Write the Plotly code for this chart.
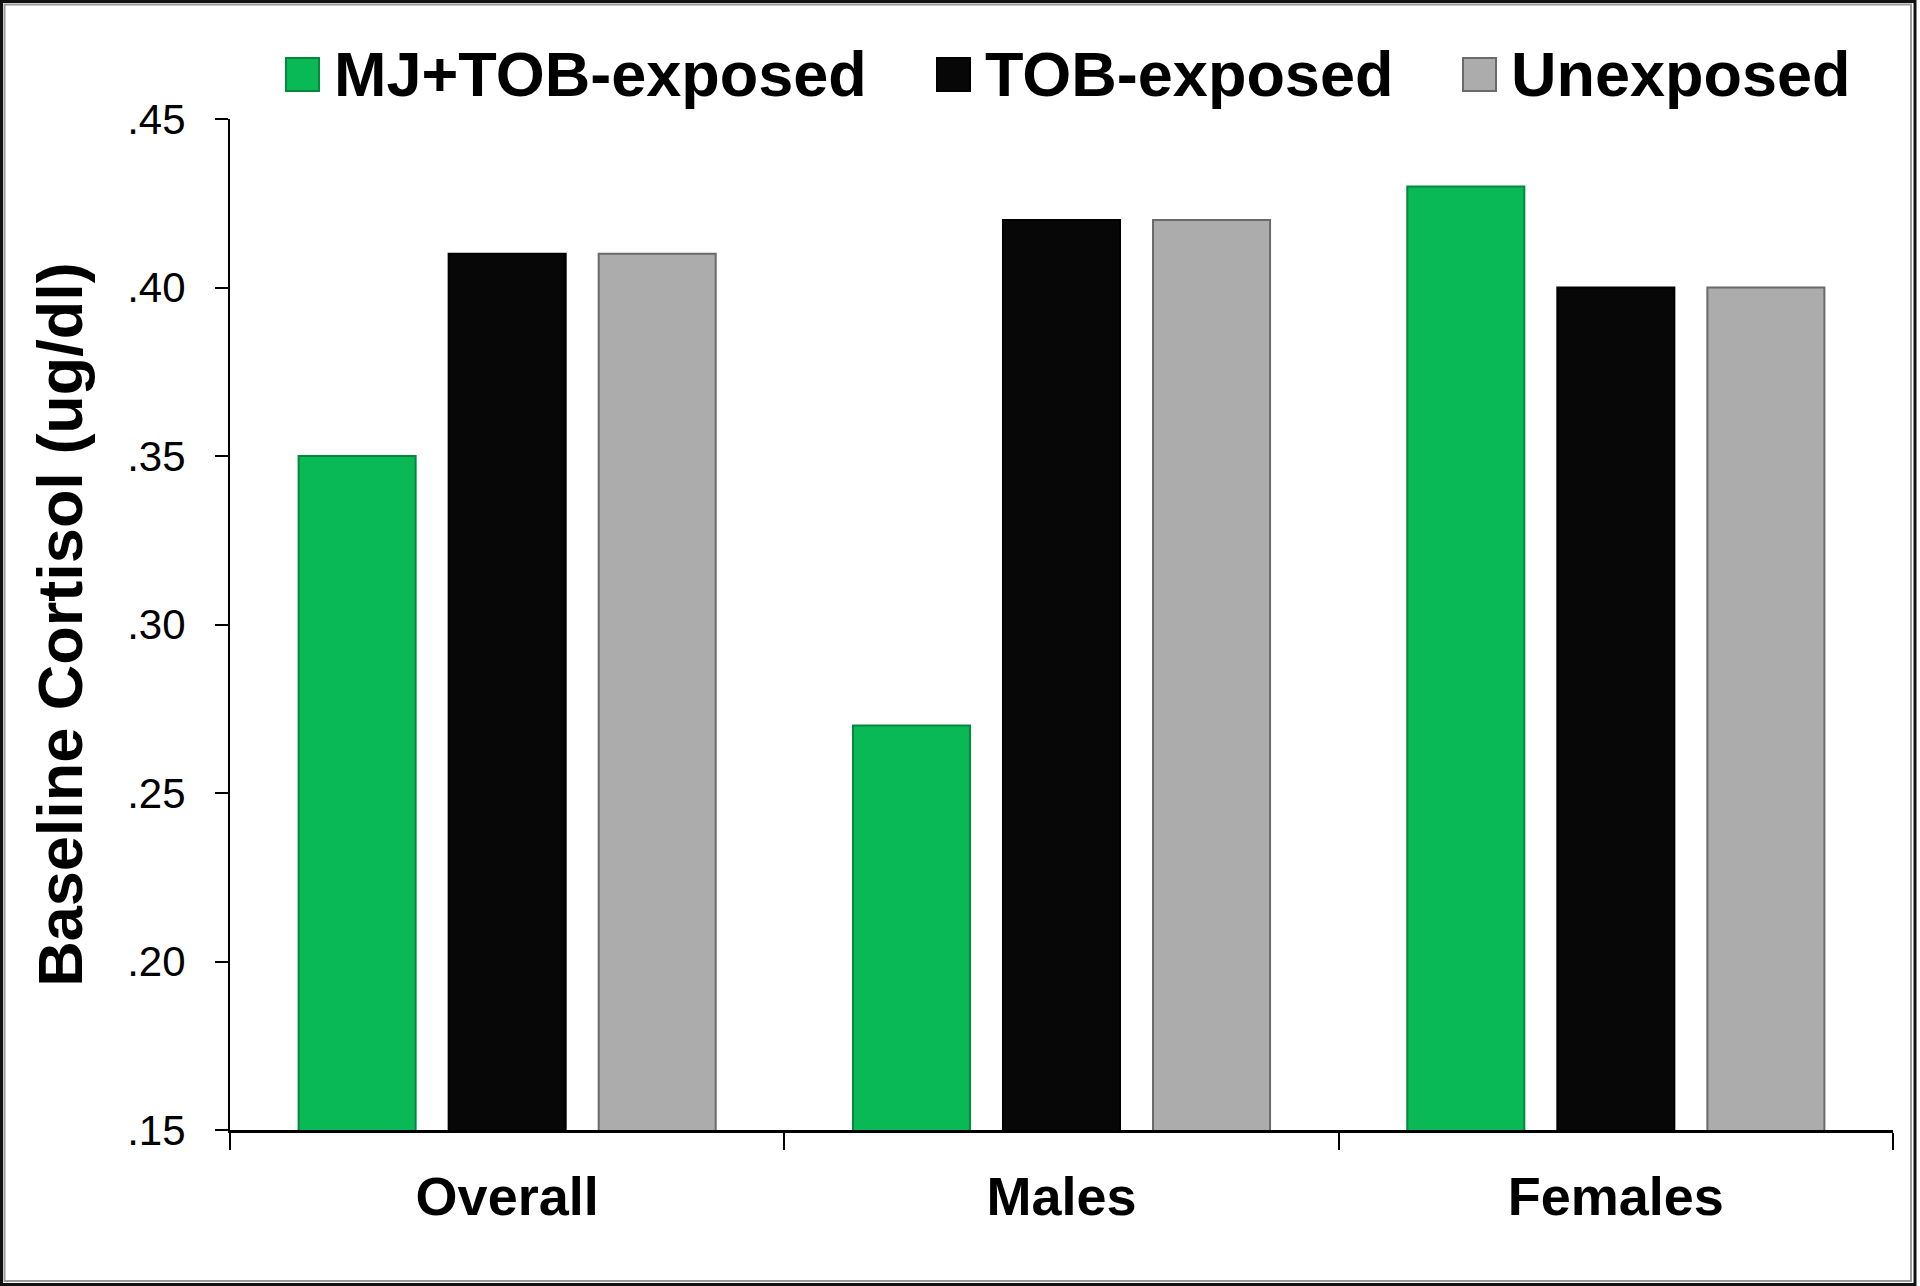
import plotly.graph_objects as go

# ---------------- data ----------------
categories = ["Overall", "Males", "Females"]
series_names = ["MJ+TOB-exposed", "TOB-exposed", "Unexposed"]
mj_tob_exposed = [0.35, 0.27, 0.43]
tob_exposed = [0.41, 0.42, 0.40]
unexposed = [0.41, 0.42, 0.40]
y_tickvals = [0.15, 0.20, 0.25, 0.30, 0.35, 0.40, 0.45]
y_ticktext = [".15", ".20", ".25", ".30", ".35", ".40", ".45"]
y_title = "Baseline Cortisol (ug/dl)"

# ---------------- style ----------------
COLORS = ["#08B955", "#070707", "#ACACAC"]
EDGES = ["#05873D", "#000000", "#6A6A6A"]
FONT = "Liberation Sans, Arial, sans-serif"

W, H = 1920, 1286
ML, MR, MT, MB = 230, 27, 119, 156
PW = W - ML - MR
PH = H - MT - MB


def px_x(x):
    return (x - ML) / PW


def px_y(y):
    return (H - MB - y) / PH


series_values = [mj_tob_exposed, tob_exposed, unexposed]

fig = go.Figure()
for name, vals, col, edge in zip(series_names, series_values, COLORS, EDGES):
    fig.add_trace(go.Bar(
        x=categories, y=vals, name=name,
        base=0,
        marker=dict(color=col, line=dict(color=edge, width=2)),
        showlegend=False,
    ))

# custom legend (large swatches like the original)
legend_swatch_left = [286, 937, 1463]
SW = 33
SW_TOP = 58
shapes = []
annotations = []
for name, col, edge, lx in zip(series_names, COLORS, EDGES, legend_swatch_left):
    shapes.append(dict(
        type="rect", xref="paper", yref="paper",
        x0=px_x(lx), x1=px_x(lx + SW), y0=px_y(SW_TOP + SW), y1=px_y(SW_TOP),
        fillcolor=col, line=dict(color=edge, width=2), layer="above",
    ))
    annotations.append(dict(
        xref="paper", yref="paper", x=px_x(lx + SW + 13), y=px_y(SW_TOP + SW / 2 - 1),
        xanchor="left", yanchor="middle", showarrow=False,
        text=name, font=dict(family=FONT, size=63, color="black", weight="bold"),
    ))

# outer frame
shapes.append(dict(type="rect", xref="paper", yref="paper",
                   x0=px_x(1.5), x1=px_x(1915), y0=px_y(1284.5), y1=px_y(1.5),
                   line=dict(color="#111111", width=3), layer="above"))
shapes.append(dict(type="rect", xref="paper", yref="paper",
                   x0=px_x(4.5), x1=px_x(1911), y0=px_y(1281), y1=px_y(4.5),
                   line=dict(color="#9A9A9A", width=2), layer="above"))

fig.update_layout(
    width=W, height=H,
    margin=dict(l=ML, r=MR, t=MT, b=MB, pad=0),
    paper_bgcolor="white", plot_bgcolor="white",
    barmode="group", bargap=0.188, bargroupgap=0.22,
    font=dict(family=FONT, color="black"),
    shapes=shapes, annotations=annotations,
    showlegend=False,
)

fig.update_xaxes(
    type="category", categoryorder="array", categoryarray=categories,
    showline=True, linecolor="black", linewidth=3,
    ticks="outside", tickson="boundaries", ticklen=17, tickwidth=2, tickcolor="black",
    tickfont=dict(family=FONT, size=54, color="black", weight="bold"),
    ticklabelstandoff=17,
    showgrid=False, zeroline=False,
)
fig.update_yaxes(
    range=[0.15, 0.45], tickvals=y_tickvals, ticktext=y_ticktext,
    showline=True, linecolor="black", linewidth=2,
    ticks="outside", ticklen=13, tickwidth=2, tickcolor="black",
    tickfont=dict(family=FONT, size=42, color="black"),
    ticklabelstandoff=21,
    showgrid=False, zeroline=False,
    title=dict(text=y_title, standoff=24,
               font=dict(family=FONT, size=63, color="black", weight="bold")),
)

fig.write_html("out.html", config={"displayModeBar": False},
               post_script="document.body.style.margin='0';")
